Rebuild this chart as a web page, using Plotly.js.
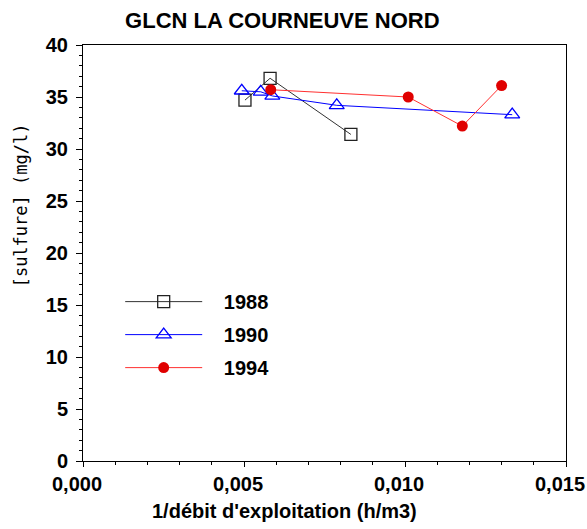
<!DOCTYPE html>
<html>
<head>
<meta charset="utf-8">
<script src="https://cdn.plot.ly/plotly-3.0.1.min.js"></script>
<style>html,body{margin:0;padding:0;background:#fff;}#chart{width:587px;height:529px;}</style>
</head>
<body>
<div id="chart"></div>
<script>
// 1988
var x1988 = [0.00503, 0.00581, 0.00832];
var y1988 = [34.7, 36.8, 31.4];
// 1990
var x1990 = [0.00493, 0.00552, 0.00588, 0.00788, 0.01333];
var y1990 = [35.6, 35.5, 35.1, 34.2, 33.3];
// 1994
var x1994 = [0.00583, 0.0101, 0.01178, 0.0130];
var y1994 = [35.7, 35.0, 32.2, 36.1];

var seriesNames = ['1988', '1990', '1994'];
var xTicks = [0, 0.005, 0.010, 0.015];
var yTicks = [0, 5, 10, 15, 20, 25, 30, 35, 40];

var boldFont = 'Liberation Sans, Arial, sans-serif';
var pad = '\u00a0\u00a0\u00a0';

var traces = [
  {x: x1988, y: y1988, name: pad + seriesNames[0], legendgroup: 'a', mode: 'lines+markers', type: 'scatter',
   line: {color: '#333333', width: 1},
   marker: {symbol: 'square-open', size: 12, color: '#222222', line: {width: 1.3}}},
  {x: x1990, y: y1990, name: pad + seriesNames[1], legendgroup: 'b', mode: 'lines+markers', type: 'scatter',
   line: {color: '#0000ff', width: 1},
   marker: {symbol: 'triangle-up-open', size: 13, color: '#0000ff', line: {width: 1.3}}},
  {x: x1994, y: y1994, name: pad + seriesNames[2], legendgroup: 'c', mode: 'lines+markers', type: 'scatter',
   line: {color: '#ff3030', width: 1},
   marker: {symbol: 'circle', size: 11, color: '#e00000'}}
];

var layout = {
  width: 587, height: 529,
  margin: {l: 83, r: 21, t: 45, b: 68},
  paper_bgcolor: '#ffffff', plot_bgcolor: '#ffffff',
  separators: ', ',
  showlegend: true,
  font: {family: boldFont, color: '#000'},
  title: {text: '<b>GLCN LA COURNEUVE NORD</b>', x: 0.481, xref: 'container', xanchor: 'center',
          y: 0.962, yref: 'container', yanchor: 'middle',
          font: {family: boldFont, size: 22, color: '#000'}},
  xaxis: {
    range: [0, 0.015], tickvals: xTicks, tickformat: '.3f',
    showgrid: false, zeroline: false, showline: true, linecolor: '#000', linewidth: 1,
    mirror: true, ticks: 'outside', ticklen: 5, tickcolor: '#000',
    ticklabeloverflow: 'allow', ticklabelshift: -6,
    minor: {dtick: 0.001, ticks: 'outside', ticklen: 3, tickcolor: '#000', showgrid: false},
    tickfont: {family: boldFont, size: 20, color: '#000', weight: 'bold'}
  },
  yaxis: {
    range: [0, 40], tickvals: yTicks,
    showgrid: false, zeroline: false, showline: true, linecolor: '#000', linewidth: 1,
    mirror: true, ticks: 'outside', ticklen: 6, tickcolor: '#000', ticklabelstandoff: 4,
    minor: {dtick: 1, ticks: 'outside', ticklen: 3, tickcolor: '#000', showgrid: false},
    tickfont: {family: boldFont, size: 20, color: '#000', weight: 'bold'}
  },
  annotations: [{
    text: "<b>1/débit d'exploitation (h/m3)</b>", xref: 'paper', yref: 'paper',
    x: 0.418, y: -0.12, xanchor: 'center', yanchor: 'middle', showarrow: false,
    font: {family: boldFont, size: 20, color: '#000'}
  }, {
    text: '[sulfure] (mg/l)', xref: 'paper', yref: 'paper', textangle: -90,
    x: -0.128, y: 0.615, xanchor: 'center', yanchor: 'middle', showarrow: false,
    font: {family: 'DejaVu Sans Mono, monospace', size: 17, color: '#000'}
  }],
  legend: {
    x: 0.077, xanchor: 'left', y: 0.43, yanchor: 'top',
    bgcolor: 'rgba(0,0,0,0)', borderwidth: 0,
    traceorder: 'grouped', tracegroupgap: 4, itemwidth: 77,
    font: {family: boldFont, size: 20, color: '#000', weight: 'bold'}
  }
};

Plotly.newPlot('chart', traces, layout, {displayModeBar: false, staticPlot: true});
</script>
</body>
</html>
